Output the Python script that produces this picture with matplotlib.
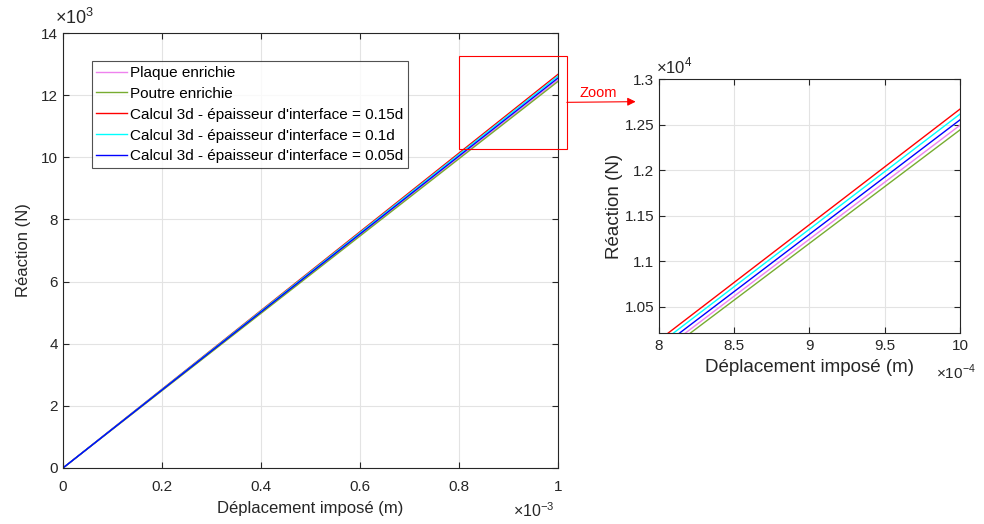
import matplotlib
matplotlib.use('Agg')
import matplotlib.pyplot as plt
from matplotlib.patches import Rectangle
from matplotlib.ticker import FuncFormatter

plt.rcParams['font.family'] = ['Liberation Sans', 'DejaVu Sans']
plt.rcParams['mathtext.fontset'] = 'custom'
plt.rcParams['mathtext.rm'] = 'Liberation Sans'

# data: imposed displacement (m) and reaction (N), linear responses
disp = [0.0, 1.0e-3]
plaque = [0.0, 12493.0]
poutre = [0.0, 12442.0]
calc_015 = [0.0, 12670.0]
calc_010 = [0.0, 12615.0]
calc_005 = [0.0, 12552.0]

labels = ["Plaque enrichie", "Poutre enrichie",
          "Calcul 3d - épaisseur d'interface = 0.15d",
          "Calcul 3d - épaisseur d'interface = 0.1d",
          "Calcul 3d - épaisseur d'interface = 0.05d"]
colors = ['#EE82EE', '#77AC30', '#FF0000', '#00FFFF', '#0000FF']
series = [plaque, poutre, calc_015, calc_010, calc_005]

main_xticks = [0, 0.2e-3, 0.4e-3, 0.6e-3, 0.8e-3, 1.0e-3]
main_yticks = [0, 2000, 4000, 6000, 8000, 10000, 12000, 14000]
zoom_xticks = [8.0e-4, 8.5e-4, 9.0e-4, 9.5e-4, 10.0e-4]
zoom_yticks = [10500, 11000, 11500, 12000, 12500, 13000]

fig = plt.figure(figsize=(9.84, 5.24), dpi=100)
ax = fig.add_axes([0.064, 0.1069, 0.503, 0.830])
axz = fig.add_axes([0.6697, 0.3645, 0.3059, 0.4847])


def style(a, fs):
    a.grid(True, color='#e3e3e3', linewidth=0.8)
    a.set_axisbelow(True)
    a.tick_params(direction='in', top=True, right=True, labelsize=fs,
                  length=4, width=0.8, colors='#262626', labelcolor='#262626')
    for s in a.spines.values():
        s.set_color('#262626')
        s.set_linewidth(0.8)


for ys, c, lab in zip(series, colors, labels):
    ax.plot(disp, ys, color=c, lw=1.0, label=lab)
    axz.plot(disp, ys, color=c, lw=1.0)

# main axes
ax.set_xlim(0, 1e-3)
ax.set_ylim(0, 14000)
ax.set_xticks(main_xticks)
ax.set_yticks(main_yticks)
ax.xaxis.set_major_formatter(FuncFormatter(lambda v, p: '%g' % round(v * 1e3, 6)))
ax.yaxis.set_major_formatter(FuncFormatter(lambda v, p: '%g' % round(v / 1e3, 6)))
style(ax, 11)
ax.tick_params(axis='x', pad=9)
ax.set_xlabel('Déplacement imposé (m)', fontsize=12, color='#262626', labelpad=5)
ax.set_ylabel('Réaction (N)', fontsize=12, color='#262626', labelpad=7)
ax.text(-0.016, 1.012, r'$\times10^{3}$', transform=ax.transAxes, fontsize=13,
        color='#262626', ha='left', va='bottom')
ax.text(0.91, -0.112, r'$\times10^{-3}$', transform=ax.transAxes, fontsize=11.5,
        color='#262626', ha='left', va='baseline')

leg = ax.legend(loc='upper left', bbox_to_anchor=(0.058, 0.935), fontsize=11,
                frameon=True, fancybox=False, borderpad=0.3, labelspacing=0.45,
                handlelength=2.0, handletextpad=0.2, borderaxespad=0)
leg.get_frame().set_edgecolor('#262626')
leg.get_frame().set_linewidth(0.8)

rect = Rectangle((0.8e-3, 10270), 0.218e-3, 3000, fill=False,
                 edgecolor='#FF0000', lw=0.8, clip_on=False, zorder=5)
ax.add_patch(rect)
ax.annotate('', xy=(0.646, 0.806), xycoords='figure fraction',
            xytext=(1.018e-3, 11770), textcoords='data',
            arrowprops=dict(arrowstyle='-|>', color='#FF0000', lw=0.8,
                            mutation_scale=12, shrinkA=0, shrinkB=0))
fig.text(0.589, 0.823, 'Zoom', color='#FF0000', fontsize=10.5, ha='left', va='center')

# zoom axes
axz.set_xlim(8e-4, 10e-4)
axz.set_ylim(10214, 13000)
axz.set_xticks(zoom_xticks)
axz.set_yticks(zoom_yticks)
axz.xaxis.set_major_formatter(FuncFormatter(lambda v, p: '%g' % round(v * 1e4, 6)))
axz.yaxis.set_major_formatter(FuncFormatter(lambda v, p: '%g' % round(v / 1e4, 6)))
style(axz, 11)
axz.tick_params(axis='x', pad=4.5)
axz.set_xlabel('Déplacement imposé (m)', fontsize=13.5, color='#262626', labelpad=4)
axz.set_ylabel('Réaction (N)', fontsize=13.5, color='#262626', labelpad=1)
axz.text(-0.01, 1.01, r'$\times10^{4}$', transform=axz.transAxes, fontsize=12,
         color='#262626', ha='left', va='bottom')
axz.text(0.92, -0.115, r'$\times10^{-4}$', transform=axz.transAxes, fontsize=11,
         color='#262626', ha='left', va='top')

fig.savefig('out.png', dpi=100)
